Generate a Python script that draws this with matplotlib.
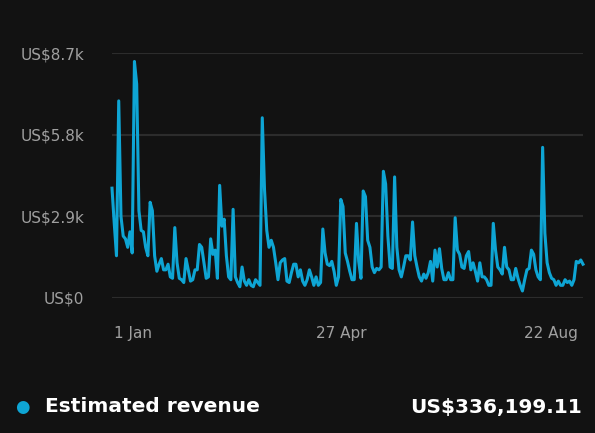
import numpy as np
import matplotlib.pyplot as plt

# daily-ish revenue in thousands USD (Dec 20 -> early Sep)
revenue_k = [
    3.9, 2.65, 1.5, 7.0, 2.9, 2.2, 2.1, 1.8, 2.35, 1.6, 8.4, 7.6, 3.1, 2.4, 2.35, 1.8,
    1.5, 3.4, 3.1, 1.5, 0.95, 1.2, 1.4, 1.0, 1.0, 1.2, 0.75, 0.7, 2.5, 1.25, 0.7, 0.65,
    0.55, 1.4, 1.0, 0.6, 0.65, 1.0, 1.0, 1.9, 1.8, 1.25, 0.7, 0.75, 2.1, 1.55, 1.7, 0.7,
    4.0, 2.55, 2.8, 1.5, 0.75, 0.65, 3.15, 0.75, 0.55, 0.4, 1.1, 0.6, 0.45, 0.65, 0.45,
    0.4, 0.65, 0.55, 0.45, 6.4, 3.85, 2.4, 1.8,
    2.05, 1.8, 1.25, 0.65, 1.25, 1.35, 1.4, 0.6, 0.55, 0.9, 1.2, 1.2, 0.75, 1.0, 0.6,
    0.45, 0.65, 1.0, 0.75, 0.45, 0.75, 0.45, 0.55, 2.45, 1.6, 1.2, 1.15, 1.3, 0.95, 0.45,
    0.75, 3.5, 3.25, 1.6, 1.3, 0.95, 0.65, 0.65, 2.65, 1.3, 0.7, 3.8, 3.6, 2.05, 1.8,
    1.1, 0.9, 1.05, 1.0, 1.1, 4.5, 4.05, 2.2, 1.1, 1.05, 4.3, 1.8, 1.0, 0.75, 1.1, 1.5,
    1.5, 1.35, 2.7, 1.5, 1.1, 0.75, 0.6, 0.85,
    0.7, 0.9, 1.3, 0.6, 1.7, 1.1, 1.75, 1.05, 0.65, 0.65, 0.9, 0.65, 0.65, 2.85, 1.7,
    1.55, 1.1, 1.05, 1.5, 1.65, 1.0, 1.25, 0.95, 0.6, 1.25, 0.75, 0.75, 0.65, 0.45, 0.45,
    2.65, 1.7, 1.1, 1.0, 0.85, 1.8, 1.1, 1.0, 0.65, 0.65, 1.05, 0.7, 0.45, 0.25, 0.65,
    1.0, 1.05, 1.7, 1.55, 1.0, 0.75, 0.65, 5.35, 2.3, 1.25, 0.9, 0.7, 0.65, 0.45, 0.6,
    0.45, 0.45, 0.65, 0.55, 0.6, 0.45, 0.65, 1.3, 1.25, 1.35, 1.2,
]
span_days = 263  # Dec 20 .. Sep 8
tick_days = [12, 128, 245]
tick_labels = ["1 Jan", "27 Apr", "22 Aug"]
y_ticks = [0, 2900, 5800, 8700]
y_labels = ["US$0", "US$2.9k", "US$5.8k", "US$8.7k"]
total = "US$336,199.11"

bg = "#121212"
blue = "#0ea5d4"

days = np.linspace(0, span_days, len(revenue_k))
values = np.array(revenue_k) * 1000

fig = plt.figure(figsize=(5.95, 4.33), dpi=100, facecolor=bg)
ax = fig.add_axes([112 / 595, 1 - 298 / 433, 471 / 595, 245 / 433], facecolor=bg)
ax.plot(days, values, color=blue, lw=2.2, solid_joinstyle="round", clip_on=False)
ax.set_xlim(0, span_days)
ax.set_ylim(0, 8700)
ax.set_yticks(y_ticks, y_labels)
ax.set_xticks(tick_days, tick_labels)
ax.grid(axis="y", color="#2c2c2c", lw=1.5)
ax.set_axisbelow(True)
for s in ax.spines.values():
    s.set_visible(False)
ax.tick_params(length=0, colors="#a0a0a0", labelsize=11)
ax.tick_params(axis="y", pad=20)
ax.tick_params(axis="x", pad=20)

fig.text(22 / 595, 1 - 407 / 433, "\u25cf", color=blue, fontsize=12, ha="center", va="center")
fig.text(45 / 595, 1 - 407 / 433, "Estimated revenue", color="white", fontsize=14.5,
         fontweight="bold", va="center")
fig.text(582 / 595, 1 - 407 / 433, total, color="white", fontsize=14.5,
         fontweight="bold", va="center", ha="right")

fig.savefig("out.png", dpi=100, facecolor=bg)
